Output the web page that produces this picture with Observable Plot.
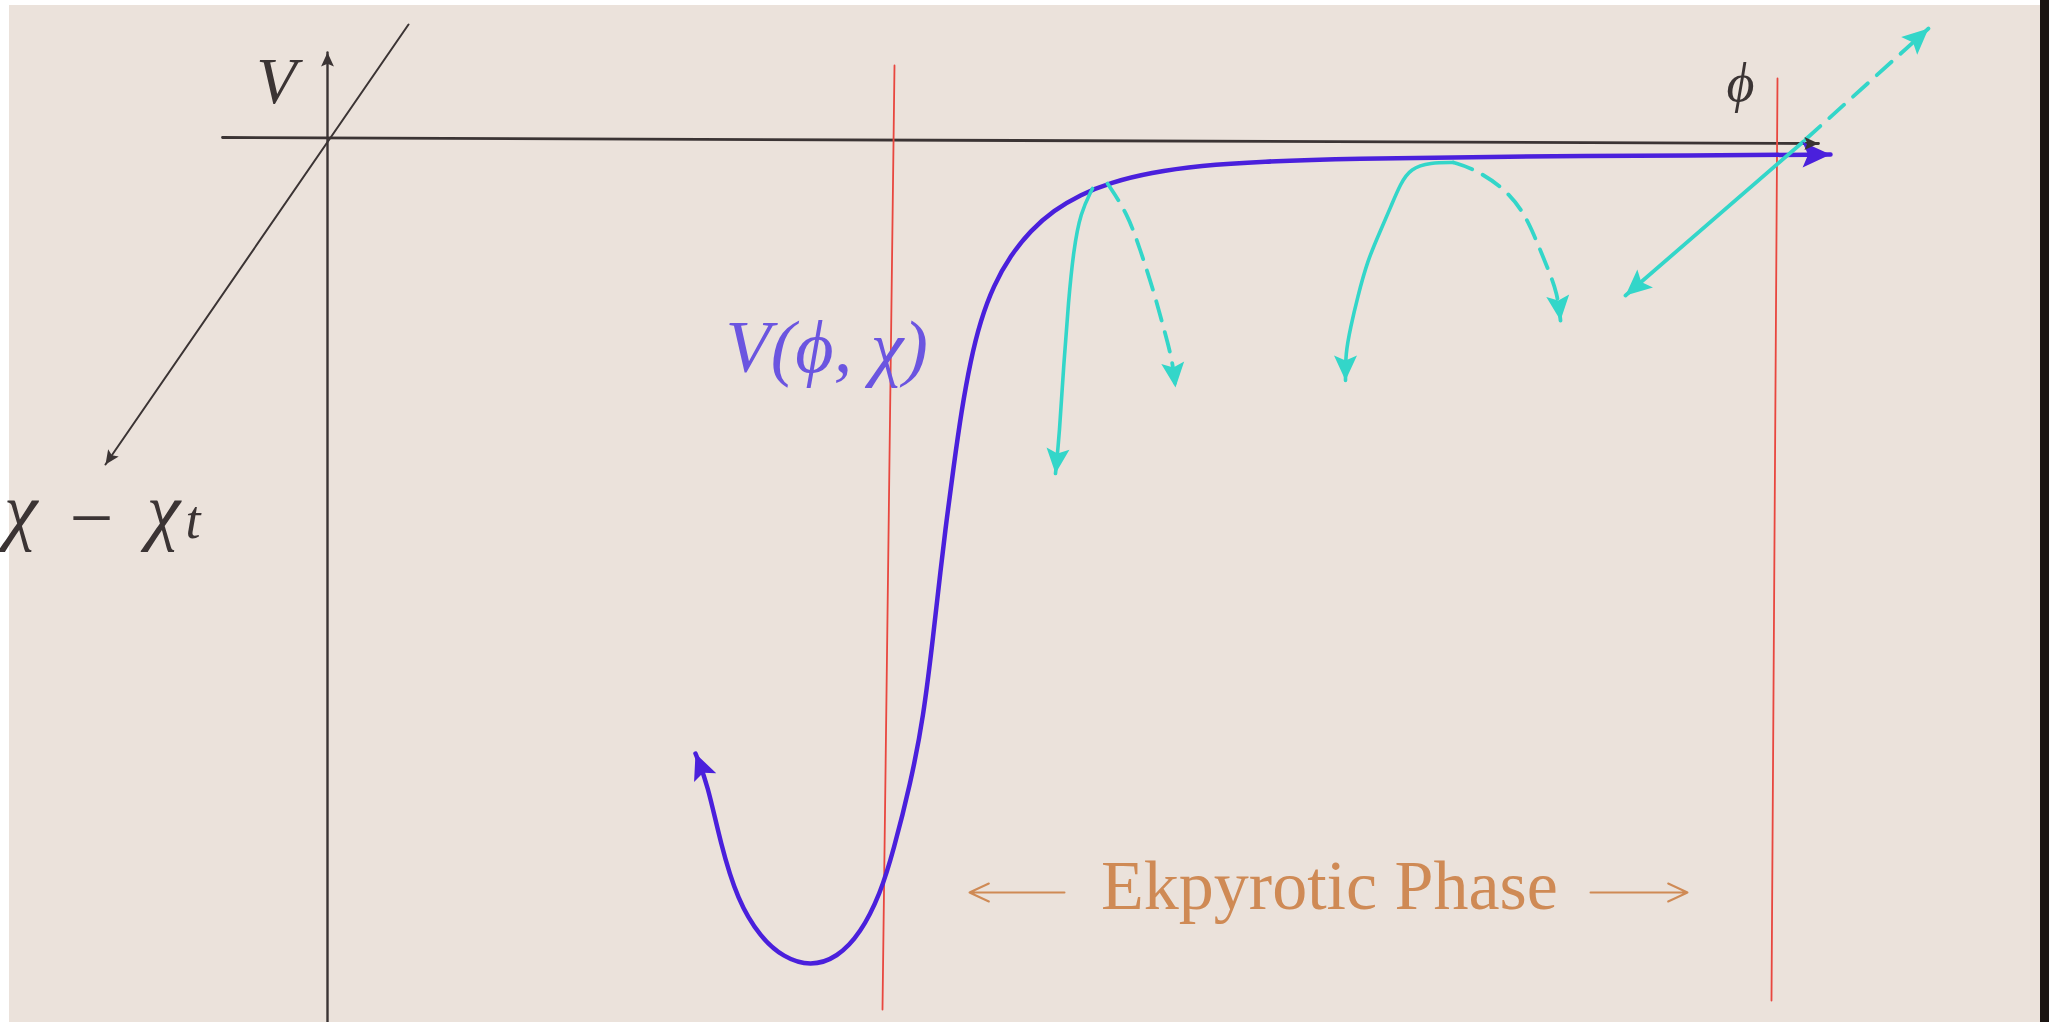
<!DOCTYPE html>
<html><head><meta charset="utf-8">
<script src="https://cdn.jsdelivr.net/npm/d3@7"></script>
<script src="https://cdn.jsdelivr.net/npm/@observablehq/plot@0.6"></script>
<style>
html,body{margin:0;padding:0;background:#fff;}
#wrap{position:relative;width:2049px;height:1022px;overflow:hidden;background:#fff;}
#paper{position:absolute;left:9px;top:5px;width:2031px;height:1017px;background:#ebe2db;}
#edge{position:absolute;left:2040px;top:0;width:9px;height:1022px;background:#1b1512;}
#chart{position:absolute;left:0;top:0;}
</style></head><body>
<div id="wrap"><div id="paper"></div><div id="edge"></div><div id="chart"></div></div>
<script>
// Schematic coordinates: [phi, V]  (origin at the axes crossing)
const potential = [[3.68,-6.16],[3.80,-6.46],[3.93,-7.06],[4.10,-7.63],[4.33,-8.00],[4.56,-8.20],[4.83,-8.29],[5.10,-8.20],[5.33,-7.96],[5.53,-7.56],[5.66,-7.13],[5.83,-6.46],[5.96,-5.80],[6.06,-4.96],[6.13,-4.33],[6.19,-3.83],[6.26,-3.30],[6.34,-2.73],[6.43,-2.23],[6.53,-1.83],[6.66,-1.48],[6.83,-1.18],[7.03,-0.93],[7.26,-0.73],[7.53,-0.57],[7.83,-0.45],[8.23,-0.35],[8.73,-0.28],[9.33,-0.24],[10.23,-0.21],[11.73,-0.19],[13.73,-0.18],[15.03,-0.17]];
const flowSolidA = [[7.65,-0.51],[7.53,-0.75],[7.46,-1.13],[7.41,-1.63],[7.36,-2.30],[7.32,-2.96],[7.28,-3.36]];
const flowDashedA = [[7.80,-0.46],[8.00,-0.76],[8.13,-1.13],[8.26,-1.53],[8.36,-1.90],[8.45,-2.23],[8.48,-2.50]];
const flowSolidB = [[11.26,-0.25],[11.03,-0.25],[10.83,-0.31],[10.73,-0.46],[10.63,-0.70],[10.53,-0.93],[10.40,-1.23],[10.30,-1.60],[10.23,-1.90],[10.18,-2.16],[10.18,-2.43]];
const flowDashedB = [[11.26,-0.25],[11.46,-0.31],[11.76,-0.50],[11.95,-0.73],[12.06,-0.96],[12.20,-1.30],[12.30,-1.56],[12.33,-1.83]];
const escapeSolid = [[14.76,-0.04],[12.98,-1.58]];
const escapeDashed = [[14.78,-0.02],[16.01,1.09]];
const phiAxis = [[-1.05,0.00],[14.91,-0.06]];
const vAxis = [[0,-8.85],[0,0.85]];
const chiAxis = [[0.81,1.13],[-2.22,-3.27]];
const redLeft = [[5.67,0.72],[5.55,-8.72]];
const redRight = [[14.50,0.59],[14.44,-8.63]];
const phaseArrowLeft = [[7.37,-7.55],[6.42,-7.55]];
const phaseArrowRight = [[12.63,-7.55],[13.60,-7.55]];

const labelText = ["V", "ϕ", "V(ϕ, χ)", "χ", "−", "χ", "t", "Ekpyrotic Phase"];

const C = {axis:"#3b3434", blue:"#4a20dc", cyan:"#33d6c9", red:"#e8473f", violet:"#6b55e0", orange:"#cf8a55"};

const stealth = {draw(ctx, size){
  const L = Math.sqrt(size/Math.PI), w = L*0.46;
  ctx.moveTo(0,0); ctx.lineTo(w,L); ctx.lineTo(0,L*0.8); ctx.lineTo(-w,L); ctx.closePath();
}};
function head(path, atEnd, len, color){
  const n = path.length;
  const a = atEnd ? path[n-2] : path[1], b = atEnd ? path[n-1] : path[0];
  return {x:b[0], y:b[1], angle:Math.atan2(b[0]-a[0], b[1]-a[1])*180/Math.PI, len, color};
}
const heads = [
  head(potential,true,28,C.blue), head(potential,false,26,C.blue),
  head(flowSolidA,true,25,C.cyan), head(flowDashedA,true,25,C.cyan),
  head(flowSolidB,true,25,C.cyan), head(flowDashedB,true,25,C.cyan),
  head(escapeSolid,true,26,C.cyan), head(escapeDashed,true,26,C.cyan),
  head(phiAxis,true,14,C.axis), head(vAxis,true,14,C.axis), head(chiAxis,true,14,C.axis)
];
const X = d=>d[0], Y = d=>d[1];
const serif = "'Liberation Serif','DejaVu Serif',serif";
const labels = [
  {t:labelText[0], x:-0.51, y:0.35, size:66, color:C.axis, anchor:"middle", style:"italic"},
  {t:labelText[1], x:14.13, y:0.37, size:54, color:C.axis, anchor:"middle", style:"italic"},
  {t:labelText[2], x:3.98, y:-2.34, size:74, color:C.violet, anchor:"start", style:"italic"},
  {t:labelText[3], x:-2.90, y:-3.98, size:76, color:C.axis, anchor:"end", style:"italic"},
  {t:labelText[4], x:-2.36, y:-4.06, size:78, color:C.axis, anchor:"middle", style:"normal"},
  {t:labelText[5], x:-1.64, y:-3.98, size:76, color:C.axis, anchor:"middle", style:"italic"},
  {t:labelText[6], x:-1.42, y:-4.00, size:54, color:C.axis, anchor:"start", style:"italic"},
  {t:labelText[7], x:10.02, y:-7.71, size:70, color:C.orange, anchor:"middle", style:"normal"}
];

const plot = Plot.plot({
  width:2049, height:1022, margin:0,
  x:{domain:[-3.27,17.22], axis:null},
  y:{domain:[1.37,-8.85], range:[0,1022], axis:null},
  r:{type:"identity"}, color:{type:"identity"},
  style:{background:"transparent", overflow:"visible"},
  marks:[
    Plot.line(phiAxis,{x:X,y:Y,stroke:C.axis,strokeWidth:2.8}),
    Plot.line(vAxis,{x:X,y:Y,stroke:C.axis,strokeWidth:2.4}),
    Plot.line(chiAxis,{x:X,y:Y,stroke:C.axis,strokeWidth:2}),
    Plot.line(redLeft,{x:X,y:Y,stroke:C.red,strokeWidth:1.8}),
    Plot.line(redRight,{x:X,y:Y,stroke:C.red,strokeWidth:1.8}),
    Plot.line(potential,{x:X,y:Y,stroke:C.blue,strokeWidth:4.5,curve:"basis"}),
    Plot.line(flowSolidA,{x:X,y:Y,stroke:C.cyan,strokeWidth:3.6,curve:"basis"}),
    Plot.line(flowDashedA,{x:X,y:Y,stroke:C.cyan,strokeWidth:3.8,strokeDasharray:"20,12",curve:"basis"}),
    Plot.line(flowSolidB,{x:X,y:Y,stroke:C.cyan,strokeWidth:3.6,curve:"basis"}),
    Plot.line(flowDashedB,{x:X,y:Y,stroke:C.cyan,strokeWidth:3.8,strokeDasharray:"20,12",curve:"basis"}),
    Plot.line(escapeSolid,{x:X,y:Y,stroke:C.cyan,strokeWidth:3.8}),
    Plot.line(escapeDashed,{x:X,y:Y,stroke:C.cyan,strokeWidth:3.8,strokeDasharray:"20,12"}),
    Plot.dot(heads,{x:"x",y:"y",r:"len",rotate:"angle",symbol:stealth,fill:"color",stroke:null}),
    Plot.arrow([phaseArrowLeft, phaseArrowRight],{x1:d=>d[0][0],y1:d=>d[0][1],x2:d=>d[1][0],y2:d=>d[1][1],stroke:C.orange,strokeWidth:2,headLength:16,headAngle:50}),
    ...labels.map(l => Plot.text([l],{x:"x",y:"y",text:"t",fontSize:l.size,fill:l.color,textAnchor:l.anchor,lineAnchor:"bottom",fontFamily:serif,fontStyle:l.style}))
  ]
});
document.getElementById("chart").appendChild(plot);
</script>
</body></html>
